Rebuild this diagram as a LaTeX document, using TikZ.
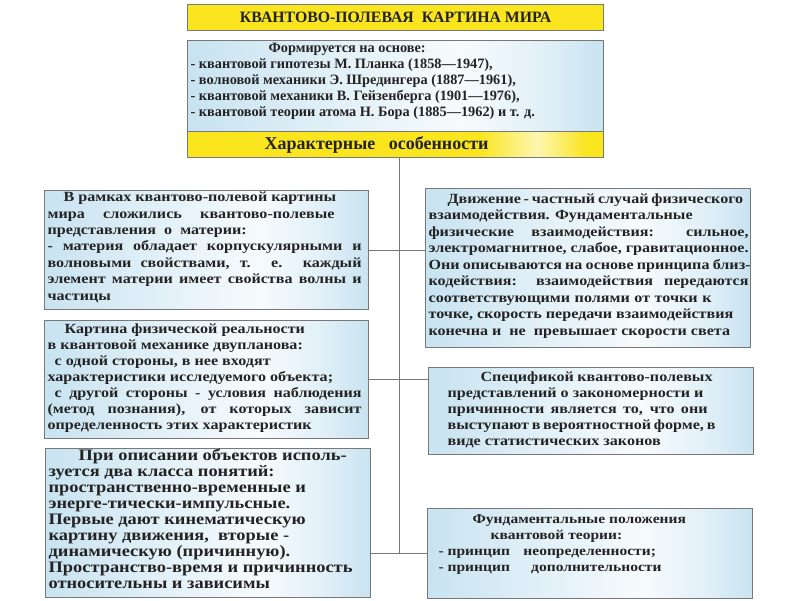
\documentclass[tikz,border=0pt]{standalone}
\usepackage{fontspec}
\setmainfont{Liberation Serif}
\newfontfamily\cardfont[FakeStretch=1.15]{Liberation Serif}
\definecolor{FrameColor}{RGB}{120,120,120}
\definecolor{CardColor}{RGB}{200,227,241}
\colorlet{CardMid}{CardColor!55!white}
\colorlet{CardLight}{CardColor!15!white}
\definecolor{BannerColor}{RGB}{250,229,30}
\colorlet{BannerLight}{BannerColor!35!white}
\definecolor{InkColor}{RGB}{35,35,35}
\usetikzlibrary{positioning}
\pgfdeclarehorizontalshading{cardshade}{100bp}{color(0bp)=(CardColor); color(25bp)=(CardColor); color(42bp)=(CardMid); color(58bp)=(CardLight); color(68bp)=(CardMid); color(75bp)=(CardColor); color(100bp)=(CardColor)}
\pgfdeclarehorizontalshading{barshade}{100bp}{color(0bp)=(BannerColor); color(25bp)=(BannerColor); color(60bp)=(BannerColor); color(67bp)=(BannerLight); color(73bp)=(BannerColor); color(100bp)=(BannerColor)}
\tikzstyle{card} = [draw=FrameColor, line width=1.2pt, anchor=north west, inner xsep=3pt, inner ysep=0pt, shade, shading=cardshade, text=InkColor]
\tikzstyle{banner} = [draw=FrameColor, line width=1.2pt, anchor=north west, inner sep=0pt, fill=BannerColor, text=InkColor]
\tikzstyle{link} = [FrameColor, line width=0.9pt]
% height, left indent, first baseline, width, lines
\newcommand{\cardbody}[5]{\parbox[c][#1][t]{#4}{\raggedright\leftskip=#2\relax\rule{0pt}{#3}#5}}

\begin{document}
\begin{tikzpicture}[x=1pt, y=-1pt]
    \useasboundingbox (0,0) rectangle (800,600);

    % Title and sources
    \node[banner, minimum width=416pt, minimum height=26pt, font=\bfseries\fontsize{15.8}{18}\selectfont] (title) at (187,4) {КВАНТОВО-ПОЛЕВАЯ\ \ КАРТИНА МИРА};
    \node[card, font=\bfseries\fontsize{14.3}{16}\selectfont] (sources) at (187,40) {\cardbody{91pt}{0pt}{11.5pt}{410pt}{%
        \hspace*{78pt}Формируется на основе:\\
        - квантовой гипотезы М. Планка (1858—1947),\\
        - волновой механики Э. Шредингера (1887—1961),\\
        - квантовой механики В. Гейзенберга (1901—1976),\\
        - квантовой теории атома Н. Бора (1885—1962) и т. д.}};
    \node[banner, shade, shading=barshade, minimum width=416pt, minimum height=26pt, font=\bfseries\fontsize{18}{20}\selectfont] (features) at (187,131) {Характерные\ \ \ особенности\hspace*{38pt}};

    % Left column
    \node[card, font=\cardfont\bfseries\fontsize{14}{16.4}\selectfont] (matter) at (44,190) {\cardbody{119pt}{0pt}{11pt}{318pt}{%
        \hspace*{16pt}В рамках квантово-полевой картины\\
        \makebox[287pt][s]{мира сложились квантово-полевые}\\
        представления\ \ о\ \ материи:\\
        \makebox[314pt][s]{- материя обладает корпускулярными и}\\
        \makebox[314pt][s]{волновыми свойствами, т. е. каждый}\\
        \makebox[314pt][s]{элемент материи имеет свойства волны и}\\
        частицы}};
    \node[card, font=\cardfont\bfseries\fontsize{14}{16}\selectfont] (reality) at (44,320) {\cardbody{118pt}{0pt}{13pt}{318pt}{%
        \hspace*{17pt}Картина физической реальности\\
        в квантовой механике двупланова:\\
        \hspace*{7pt}с одной стороны, в нее входят\\
        характеристики исследуемого объекта;\\
        \hspace*{7pt}\makebox[307pt][s]{с другой стороны - условия наблюдения}\\
        \makebox[314pt][s]{(метод познания), от которых зависит}\\
        определенность этих характеристик}};
    \node[card, font=\cardfont\bfseries\fontsize{16}{16}\selectfont] (concepts) at (45,448) {\cardbody{149pt}{0pt}{12pt}{319pt}{%
        \hspace*{30pt}При описании объектов исполь-\\
        зуется два класса понятий:\\
        пространственно-временные и\\
        энерге-тически-импульсные.\\
        Первые дают кинематическую\\
        картину движения,\ \ вторые -\\
        динамическую (причинную).\\
        Пространство-время и причинность\\
        относительны и зависимы}};

    % Right column
    \node[card, font=\cardfont\bfseries\fontsize{14}{16.5}\selectfont] (motion) at (425,188) {\cardbody{159pt}{0pt}{14.5pt}{319pt}{%
        \hspace*{19pt}\makebox[292pt][s]{\spaceskip=0.2em plus 1em Движение - частный случай физического}\\
        взаимодействия. Фундаментальные\\
        \makebox[320pt][s]{физические взаимодействия: сильное,}\\
        \makebox[320pt][s]{электромагнитное, слабое, гравитационное.}\\
        \makebox[322pt][s]{Они описываются на основе принципа близ-}\\
        \makebox[320pt][s]{кодействия: взаимодействия передаются}\\
        \makebox[283pt][s]{соответствующими полями от точки к}\\
        точке, скорость передачи взаимодействия\\
        конечна и\ \ не\ \ превышает скорости света}};
    \node[card, font=\cardfont\bfseries\fontsize{14}{16}\selectfont] (statlaws) at (428,367) {\cardbody{87pt}{16pt}{13.5pt}{319pt}{%
        \hspace*{33pt}\makebox[232pt][s]{Спецификой квантово-полевых}\\
        представлений о закономерности и\\
        \makebox[260pt][s]{причинности является то, что они}\\
        \makebox[260pt][s]{выступают в вероятностной форме, в}\\
        виде статистических законов}};
    \node[card, font=\cardfont\bfseries\fontsize{13.5}{16}\selectfont] (principles) at (427,508) {\cardbody{90pt}{8pt}{14.5pt}{319pt}{%
        \hspace*{34pt}Фундаментальные положения\\
        \hspace*{52pt}квантовой теории:\\
        - принцип\quad неопределенности;\\
        - принцип\quad\ \ дополнительности}};

    % Connectors
    \coordinate (trunk) at (399,553);
    \draw[link] (features.south -| trunk) -- (trunk);
    \draw[link] (matter.east) -- (matter.east -| motion.west);
    \draw[link] (reality.east) -- (reality.east -| statlaws.west);
    \draw[link] (principles.west -| concepts.east) -- (principles.west);
\end{tikzpicture}
\end{document}
